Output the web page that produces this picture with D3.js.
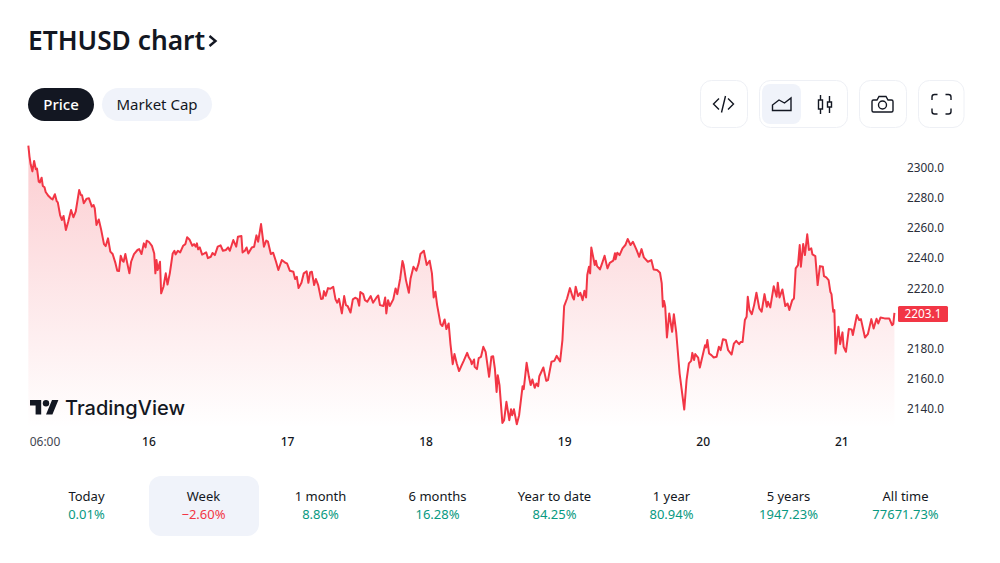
<!DOCTYPE html>
<html>
<head>
<meta charset="utf-8">
<script src="https://d3js.org/d3.v7.min.js"></script>
<style>
    html, body {margin: 0; padding: 0; background: #fff;}
    text {font-family: "Noto Sans", sans-serif; fill: #131722;}
</style>
</head>
<body>
<div id="chart"></div>
<script>
// Hours since 00:00 on the 15th
var hours = [3.2,3.4,3.6,3.9,4.2,4.5,4.7,5.0,5.2,5.5,5.7,6.0,6.2,6.7,7.1,7.4,7.8,8.1,8.3,8.7,9.0,9.3,9.7,10.1,10.6,11.0,11.4,12.0,12.3,12.5,12.8,13.3,13.7,14.2,14.5,14.7,15.0,15.4,15.8,16.3,16.6,17.0,17.4,17.8,18.3,18.6,18.9,19.2,19.5,19.7,20.0,20.3,20.7,21.0,21.5,22.1,22.4,22.8,23.2,23.5,23.7,24.1,24.6,25.0,25.2,25.4,25.6,26.0,26.2,26.6,27.0,27.3,27.7,28.2,28.5,28.7,29.1,29.5,30.0,30.4,30.7,31.1,31.6,31.9,32.2,32.4,32.6,32.9,33.3,33.7,34.0,34.3,34.8,35.1,35.5,36.0,36.5,36.9,37.4,37.8,38.1,38.7,39.2,39.5,40.1,40.3,40.7,41.0,41.3,41.9,42.3,42.7,43.0,43.5,44.0,44.4,44.7,45.2,45.6,46.1,46.5,47.1,47.7,48.0,48.5,49.1,49.4,49.7,50.0,50.5,50.9,51.4,51.7,52.0,52.3,52.7,53.0,53.4,53.9,54.2,54.4,54.7,55.1,
    55.5,56.0,56.4,56.7,57.0,57.5,57.9,58.2,58.5,59.0,59.4,59.8,60.2,60.5,60.7,61.2,61.5,61.9,62.5,62.9,63.5,63.8,64.1,64.7,65.0,65.2,65.5,65.8,66.4,66.8,67.1,67.6,68.0,68.2,68.6,69.1,69.4,69.9,70.4,70.8,71.1,71.7,72.2,72.7,73.1,73.4,73.7,74.0,74.6,74.9,75.3,75.6,76.0,76.3,76.7,77.0,77.4,77.8,78.2,78.6,79.2,79.5,79.8,80.0,80.4,80.5,80.9,81.2,81.6,82.0,82.4,83.0,83.4,83.7,84.0,84.3,84.5,84.8,85.3,85.6,86.0,86.5,86.8,87.0,87.3,87.8,88.2,88.8,89.0,89.5,89.9,90.2,90.5,90.9,91.2,91.5,91.7,92.4,92.9,93.2,93.8,94.3,94.7,95.3,95.7,96.0,96.5,97.0,97.5,97.7,98.0,98.4,98.8,99.2,99.5,99.8,100.0,100.3,100.5,100.7,101.3,101.5,101.7,102.2,102.6,103.0,103.5,103.9,104.5,104.8,104.9,105.2,105.6,106.1,106.6,107.0,107.5,107.9,108.5,109.0,109.4,109.8,
    110.5,111.1,111.5,112.1,112.6,112.9,113.1,113.3,113.5,113.8,114.2,114.7,115.0,115.4,116.0,116.8,117.2,117.6,118.0,118.2,118.5,118.7,119.2,119.5,120.4,120.6,120.8,121.1,121.5,121.9,122.4,122.8,123.1,123.5,124.0,124.4,125.0,125.4,125.8,126.3,126.6,126.9,127.3,127.6,127.8,128.1,128.5,128.9,129.3,129.8,130.2,130.7,131.1,131.3,131.7,132.3,132.8,133.0,133.3,133.8,134.3,134.7,135.0,135.5,135.8,136.1,136.5,136.8,137.0,137.4,137.7,138.1,138.4,138.8,139.0,139.5,139.9,140.3,140.8,141.0,141.4,141.8,142.1,142.3,142.6,142.8,143.0,143.5,143.8,144.2,144.4,144.8,145.3,145.8,146.0,146.7,147.1,147.4,148.1,148.6,149.2,149.6,150.1,150.4,150.8,151.5,152.3,152.8,153.0,153.2];

var prices = [2314.2,2306.9,2301.8,2297.1,2304.0,2298.5,2298.9,2290.3,2289.8,2292.9,2287.4,2286.5,2283.4,2280.7,2279.2,2278.5,2281.9,2277.4,2276.5,2268.1,2264.8,2267.5,2258.2,2263.7,2271.4,2266.6,2270.3,2284.7,2281.4,2281.2,2275.9,2279.0,2279.2,2273.7,2274.8,2272.5,2261.5,2265.2,2258.6,2248.8,2247.5,2252.6,2243.8,2242.2,2236.0,2231.1,2230.9,2241.1,2237.8,2237.1,2242.2,2236.7,2229.4,2237.1,2242.2,2244.9,2245.5,2242.2,2249.3,2246.6,2251.1,2250.2,2247.7,2242.6,2229.4,2238.2,2231.6,2237.1,2216.1,2220.5,2229.4,2222.0,2229.4,2242.6,2244.4,2242.0,2244.4,2243.3,2247.7,2248.8,2253.3,2251.9,2247.7,2248.8,2247.1,2249.3,2245.3,2246.6,2241.8,2242.6,2243.3,2239.5,2240.4,2242.9,2241.5,2247.1,2248.0,2244.4,2244.9,2246.6,2244.4,2251.5,2247.1,2253.7,2254.2,2243.3,2244.4,2246.6,2242.6,2246.6,2247.1,2254.6,2250.4,2262.1,2247.1,2251.1,2250.4,2242.2,2243.1,2237.1,2231.6,2238.2,2236.4,2236.0,2231.1,2230.5,2225.6,2227.1,2219.6,2223.1,2229.4,2230.7,2223.1,2230.0,2230.5,2221.6,2225.6,2221.6,2212.3,2212.7,2217.6,2214.5,2219.6,
    2219.2,2220.5,2212.1,2209.9,2212.5,2202.8,2214.3,2208.3,2207.7,2203.4,2212.1,2213.2,2212.5,2207.9,2217.0,2215.6,2211.6,2210.5,2214.3,2209.9,2213.4,2214.7,2208.3,2207.7,2213.4,2202.8,2211.6,2207.7,2212.1,2219.4,2215.6,2226.0,2237.6,2234.9,2224.9,2216.5,2226.0,2233.8,2231.1,2236.0,2242.2,2244.4,2234.9,2237.8,2229.4,2213.4,2217.2,2208.3,2195.7,2194.4,2198.8,2192.4,2196.1,2182.8,2169.1,2175.8,2169.6,2164.5,2168.0,2171.3,2176.6,2173.5,2171.8,2169.1,2172.2,2167.3,2165.8,2173.1,2174.0,2180.6,2177.3,2160.7,2174.0,2174.4,2166.2,2150.7,2161.8,2155.2,2130.1,2131.9,2144.1,2131.9,2139.2,2135.2,2139.2,2129.2,2135.2,2154.5,2152.5,2170.0,2160.7,2155.2,2158.9,2153.4,2156.3,2154.5,2161.1,2166.9,2158.0,2158.5,2170.7,2171.3,2174.6,2170.9,2185.1,2207.7,2212.7,2219.6,2213.4,2212.1,2220.5,2214.3,2216.5,2211.6,2217.8,2213.4,2228.3,2233.8,2229.4,2246.6,2234.9,2237.8,2234.2,2232.0,2236.4,2241.1,2232.7,2236.4,2237.8,2242.7,2238.7,2243.1,2241.5,2246.0,2248.2,2252.2,2248.2,2250.4,2245.3,2240.4,2245.5,2240.0,
    2237.1,2238.2,2232.0,2231.6,2229.8,2222.7,2207.2,2211.0,2207.2,2186.8,2202.8,2190.6,2202.3,2190.6,2162.9,2139.0,2158.5,2169.6,2171.3,2176.6,2171.8,2175.8,2173.5,2166.9,2181.7,2180.2,2185.1,2176.2,2175.1,2173.5,2174.0,2180.6,2178.4,2185.7,2185.1,2178.4,2175.5,2182.8,2184.6,2182.4,2183.9,2183.9,2198.4,2200.6,2213.9,2205.0,2202.3,2208.3,2216.5,2206.1,2203.9,2215.6,2207.2,2210.5,2206.8,2220.9,2213.9,2223.2,2213.4,2218.7,2207.7,2209.4,2205.0,2211.6,2212.7,2232.7,2234.9,2248.2,2233.8,2248.9,2241.5,2255.3,2244.9,2246.0,2242.0,2240.9,2221.6,2234.2,2233.8,2227.6,2226.7,2224.9,2217.2,2215.6,2203.9,2205.0,2176.2,2193.9,2182.4,2190.2,2180.6,2177.3,2192.4,2192.2,2188.4,2201.7,2198.4,2199.0,2186.8,2189.0,2199.0,2192.8,2199.2,2196.1,2200.1,2199.5,2199.5,2195.0,2195.7,2203.1];

var priceTicks = [2140, 2160, 2180, 2220, 2240, 2260, 2280, 2300];
var timeTicks = [6, 24, 48, 72, 96, 120, 144];
var timeLabels = ["06:00", "16", "17", "18", "19", "20", "21"];
var periodNames = ["Today", "Week", "1 month", "6 months", "Year to date", "1 year", "5 years", "All time"];
var periodChanges = ["0.01%", "\u22122.60%", "8.86%", "16.28%", "84.25%", "80.94%", "1947.23%", "77671.73%"];

var green = "#089981", red = "#f23645", ink = "#131722", pale = "#f0f3fa";

var svg = d3.select("#chart").append("svg")
    .attr("width", 1000)
    .attr("height", 563)
    .style("display", "block");

var x = d3.scaleLinear().domain([3.14, 153.3]).range([28, 895]);
var y = d3.scaleLinear().domain([2140, 2300]).range([408, 167]);

// Gradient under the line
var grad = svg.append("defs").append("linearGradient")
    .attr("id", "fade")
    .attr("gradientUnits", "userSpaceOnUse")
    .attr("x1", 0).attr("x2", 0)
    .attr("y1", y(2314)).attr("y2", 428);
grad.append("stop").attr("offset", 0).attr("stop-color", "#f23645").attr("stop-opacity", 0.25);
grad.append("stop").attr("offset", 1).attr("stop-color", "#f23645").attr("stop-opacity", 0);

var area = d3.area()
    .x(function(d, i) {return x(hours[i])})
    .y0(428)
    .y1(function(d) {return y(d)});
var line = d3.line()
    .x(function(d, i) {return x(hours[i])})
    .y(function(d) {return y(d)});

svg.append("path").attr("d", area(prices)).attr("fill", "url(#fade)");

// Logo sits over the area, under the line
var logo = svg.append("g").attr("transform", "translate(30,396.8) scale(0.8)");
logo.append("path").attr("d", "M14 22H7V11H0V4h14v18zM28 22h-8l7.5-18h8L28 22z").attr("fill", ink);
logo.append("circle").attr("cx", 20).attr("cy", 8).attr("r", 4).attr("fill", ink);
svg.append("text").attr("x", 65).attr("y", 414.5)
    .attr("font-size", 20).attr("font-weight", 500).style("font-family", "Inter")
    .text("TradingView");

svg.append("path").attr("d", line(prices))
    .attr("fill", "none").attr("stroke", red).attr("stroke-width", 2).attr("stroke-linejoin", "round");

// Axes
var yAxis = d3.axisRight(y).tickValues(priceTicks).tickSize(0).tickPadding(12).tickFormat(d3.format(".1f"));
var yG = svg.append("g").attr("transform", "translate(895,0.8)").call(yAxis);
yG.select(".domain").remove();
yG.selectAll("text").attr("font-size", 11.8).style("fill", "#2a2e39").style("font-family", "Noto Sans");

var xAxis = d3.axisBottom(x).tickValues(timeTicks).tickSize(0).tickPadding(0)
    .tickFormat(function(d, i) {return timeLabels[i]});
var xG = svg.append("g").attr("transform", "translate(0,437)").call(xAxis);
xG.select(".domain").remove();
xG.selectAll("text").attr("font-size", 12).style("font-family", "Noto Sans")
    .style("fill", function(d, i) {return i == 0 ? "#434651" : ink})
    .attr("font-weight", function(d, i) {return i == 0 ? 400 : 500});

// Last price label
var last = prices[prices.length - 1];
svg.append("rect").attr("x", 898).attr("y", y(last) - 7).attr("width", 50).attr("height", 16)
    .attr("rx", 1.5).attr("fill", red);
svg.append("text").attr("x", 923).attr("y", y(last) + 5.5).attr("text-anchor", "middle")
    .attr("font-size", 11.8).style("fill", "#fff").text(d3.format(".1f")(last));

// Header
svg.append("text").attr("x", 28).attr("y", 49.5)
    .attr("font-size", 26.3).attr("font-weight", 600).text("ETHUSD chart");
svg.append("path").attr("d", "M209.5 36l6 5-6 5")
    .attr("fill", "none").attr("stroke", ink).attr("stroke-width", 2.4);

svg.append("rect").attr("x", 28).attr("y", 88).attr("width", 66).attr("height", 33).attr("rx", 16.5).attr("fill", ink);
svg.append("text").attr("x", 61).attr("y", 109.5).attr("text-anchor", "middle")
    .attr("font-size", 15).attr("font-weight", 500).style("fill", "#fff").text("Price");
svg.append("rect").attr("x", 102).attr("y", 88).attr("width", 110).attr("height", 33).attr("rx", 16.5).attr("fill", pale);
svg.append("text").attr("x", 157).attr("y", 109.5).attr("text-anchor", "middle")
    .attr("font-size", 15).text("Market Cap");

// Toolbar buttons
var boxes = [[700, 47], [759, 88], [859, 47], [918, 45.5]];
svg.selectAll(".box").data(boxes).enter().append("rect")
    .attr("class", "box")
    .attr("x", function(d) {return d[0] + 0.5})
    .attr("y", 80.5)
    .attr("width", function(d) {return d[1]})
    .attr("height", 47)
    .attr("rx", 11)
    .attr("fill", "#fff")
    .attr("stroke", "#eef0f5");
svg.append("rect").attr("x", 762).attr("y", 84).attr("width", 39).attr("height", 40).attr("rx", 8).attr("fill", pale);

var iconPaths = [
    "M719 98.5l-5.5 5.5 5.5 5.5M728 98.5l5.5 5.5-5.5 5.5M725.5 96l-4 16.5",
    "M772.500 110.500v-5.500l6.500-5 5.500 3 6.500-5v12.500z",
    "M820.500 95v5M820.500 109v5M818.500 100h4v9h-4zM829.500 96v6M829.500 107v6M827.500 102h4v5h-4z",
    "M873.500 100h3.500l2-3.500h7l2 3.500h3.500c1 0 1.500.500 1.500 1.500v9c0 1-.500 1.500-1.500 1.500h-18c-1 0-1.500-.500-1.500-1.500v-9c0-1 .500-1.500 1.500-1.500z",
    "M932 100v-3c0-1.500.800-2.500 2.500-2.500h3M945.500 94.500h3c1.700 0 2.500 1 2.500 2.500v3M951 108.500v3c0 1.500-.800 2.500-2.500 2.500h-3M937.500 114h-3c-1.700 0-2.500-1-2.500-2.500v-3"
];
svg.selectAll(".icon").data(iconPaths).enter().append("path")
    .attr("class", "icon")
    .attr("d", function(d) {return d})
    .attr("fill", "none")
    .attr("stroke", ink)
    .attr("stroke-width", 1.4);
svg.append("circle").attr("cx", 882.5).attr("cy", 105).attr("r", 4)
    .attr("fill", "none").attr("stroke", ink).attr("stroke-width", 1.4);

// Period table
var slot = d3.scalePoint().domain(periodNames).range([86.5, 905.5]);
svg.append("rect").attr("x", 149).attr("y", 476).attr("width", 110).attr("height", 60).attr("rx", 12).attr("fill", pale);
svg.selectAll(".period").data(periodNames).enter().append("text")
    .attr("class", "period")
    .attr("x", function(d) {return slot(d)})
    .attr("y", 501)
    .attr("text-anchor", "middle")
    .attr("font-size", 13)
    .text(function(d) {return d});
svg.selectAll(".change").data(periodChanges).enter().append("text")
    .attr("class", "change")
    .attr("x", function(d, i) {return slot(periodNames[i])})
    .attr("y", 519)
    .attr("text-anchor", "middle")
    .attr("font-size", 13)
    .style("fill", function(d) {return d.charAt(0) == "\u2212" ? red : green})
    .text(function(d) {return d});
</script>
</body>
</html>
